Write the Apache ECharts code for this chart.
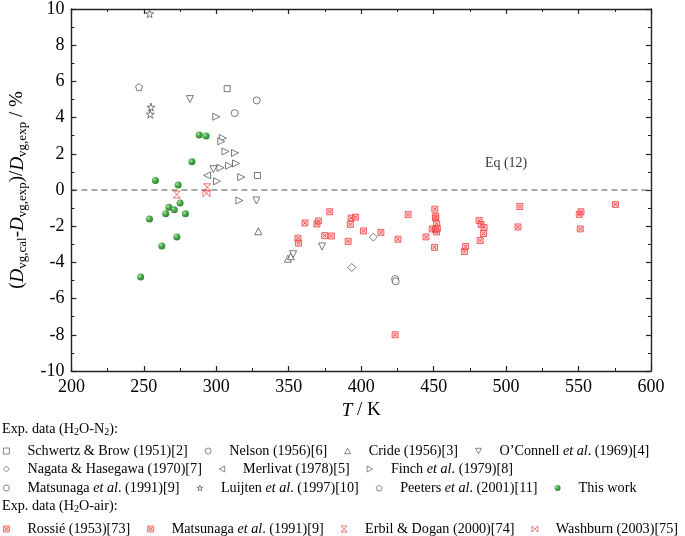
<!DOCTYPE html>
<html><head><meta charset="utf-8">
<script src="https://cdn.jsdelivr.net/npm/echarts@6/dist/echarts.min.js"></script>
<style>html,body{margin:0;padding:0;background:#fff}#c{width:685px;height:536px}</style>
</head><body><div id="c"></div>
<script>
// ---- data: [T / K, deviation / %] ----
const schwertz = [[307.5,5.6],[328.4,0.8]];
const nelson = [[312.7,4.25],[327.9,4.95]];
const cride = [[329,-2.28],[349.4,-3.8],[351.5,-3.66]];
const oconnell = [[281.8,5.02],[298,1.15],[327.7,-0.58],[373,-3.12],[353,-3.55]];
const nagata = [[408.4,-2.6],[393.5,-4.28]];
const merlivat = [[293.7,0.81]];
const finch = [[300,4.05],[304.5,2.87],[303.4,2.69],[306.3,2.13],[312.9,2.05],[302.9,1.23],[308.8,1.34],[313.6,1.47],[317.2,0.71],[300.5,0.48],[315.9,-0.58]];
const matsunagaN2 = [[423.4,-4.92],[423.8,-5.05]];
const luijten = [[254,9.74],[254.9,4.58],[254.4,4.19]];
const peeters = [[246.7,5.68]];
const thisWork = [[288.2,3.04],[293,2.98],[283.2,1.56],[258,0.53],[273.7,0.27],[275,-0.72],[267.3,-0.95],[271,-1.09],[265.1,-1.31],[278.7,-1.31],[253.9,-1.6],[272.8,-2.59],[262.4,-3.09],[247.8,-4.81]];
const rossie = [[432.4,-1.36],[444.7,-2.59],[449,-2.15],[450.6,-3.17],[450.8,-1.06],[451.2,-1.55],[451.2,-2.18],[451.5,-1.46],[452,-2.32],[452.1,-1.86],[452.6,-2.13],[471.2,-3.4],[472.1,-3.12],[482.1,-2.79],[481.4,-1.69],[482.8,-1.91],[484.4,-2.4],[484.8,-2.07],[508.2,-2.04],[509.5,-0.91],[550.5,-1.35],[551.2,-2.15],[551.7,-1.2],[575.5,-0.8]];
const matsunagaAir = [[356.3,-2.66],[356.7,-2.94],[361.2,-1.82],[369.4,-1.88],[370.5,-1.71],[374.8,-2.52],[378.3,-1.2],[379.4,-2.54],[391,-2.84],[392.5,-1.9],[393,-1.55],[396.1,-1.5],[401.6,-2.26],[413.6,-2.34],[423.4,-8.0],[425.4,-2.72]];
const erbil = [[272.8,-0.25],[293.7,0.15]];
const washburn = [[293.2,-0.18]];
const eqLine = [[200,0],[600,0]];
const eqLabelPos = [[500,0]];
const xRange = [200, 600, 50];
const yRange = [-10, 10, 2];

const FF = '"Liberation Serif","Times New Roman",serif';
const LFS = 14.2;
const GRAY = '#444';
const hollow = {color:'#fff', borderColor:GRAY, borderWidth:0.9};
const redBox = {color:'rgba(255,140,140,0.55)', borderColor:'#f03434', borderWidth:0.9};
const redX = {color:'rgba(0,0,0,0)', borderColor:'#f03434', borderWidth:0.9};
const green = {color:{type:'radial',x:0.35,y:0.35,r:0.75,colorStops:[{offset:0,color:'#9be09b'},{offset:0.45,color:'#129012'},{offset:1,color:'#045a04'}]}};
const SQ = 'path://M0,0L10,0L10,10L0,10Z';
const CIR = 'circle';
const TUP = 'path://M5,0L10,9L0,9Z';
const TDN = 'path://M0,0L10,0L5,9Z';
const TLF = 'path://M0,5L9,0L9,10Z';
const TRT = 'path://M0,0L9,5L0,10Z';
const DIA = 'path://M5,0L10,5L5,10L0,5Z';
const STAR = 'path://M50,0L61,35L98,35L68,57L79,91L50,70L21,91L32,57L2,35L39,35Z';
const PENT = 'path://M50,0L98,35L79,91L21,91L2,35Z';
const BOXX = 'path://M0,0L10,0L10,10L0,10Z M2,2L8,8 M8,2L2,8';
const HOUR = 'path://M0,0L10,0L0,10L10,10Z';
const WASH = 'path://M0,0L10,10M10,0L0,10M0,0L0,10M10,0L10,10';

const meta = [
  {name:'Schwertz & Brow (1951)[2]', data:schwertz, symbol:SQ, size:6, style:hollow},
  {name:'Nelson (1956)[6]', data:nelson, symbol:CIR, size:7, style:hollow},
  {name:'Cride (1956)[3]', data:cride, symbol:TUP, size:7, style:hollow},
  {name:'O\u2019Connell et al. (1969)[4]', data:oconnell, symbol:TDN, size:7, style:hollow},
  {name:'Nagata & Hasegawa (1970)[7]', data:nagata, symbol:DIA, size:8, style:hollow},
  {name:'Merlivat (1978)[5]', data:merlivat, symbol:TLF, size:7, style:hollow},
  {name:'Finch et al. (1979)[8]', data:finch, symbol:TRT, size:7, style:hollow},
  {name:'Matsunaga et al. (1991)[9]', data:matsunagaN2, symbol:CIR, size:7, style:hollow},
  {name:'Luijten et al. (1997)[10]', data:luijten, symbol:STAR, size:8, style:hollow},
  {name:'Peeters et al. (2001)[11]', data:peeters, symbol:PENT, size:7, style:hollow},
  {name:'This work', data:thisWork, symbol:CIR, size:7, style:green},
  {name:'Rossi\u00e9 (1953)[73]', data:rossie, symbol:BOXX, size:6, style:redBox},
  {name:'Matsunaga et al. (1991)[9] ', data:matsunagaAir, symbol:BOXX, size:6, style:redBox},
  {name:'Erbil & Dogan (2000)[74]', data:erbil, symbol:HOUR, size:7, style:redX},
  {name:'Washburn (2003)[75]', data:washburn, symbol:WASH, size:7, style:redX}
];

const series = [
  {type:'line', data:eqLine, symbol:'none', silent:true, lineStyle:{color:'#555', width:1.2, type:[6,4]}, z:1},
  {type:'scatter', data:eqLabelPos, symbolSize:0, silent:true,
    label:{show:true, formatter:'Eq (12)', position:'top', distance:20, color:'#000', fontFamily:FF, fontSize:14}}
].concat(meta.map(m => ({type:'scatter', name:m.name, data:m.data, symbol:m.symbol, symbolSize:m.size,
  itemStyle:m.style, emphasis:{disabled:true}, z:3})));

function fmt(name) {
  const t = name.trim();
  const k = t.indexOf('et al.');
  if (k < 0) return '{g|}{n|' + t + '}';
  return '{g|}{n|' + t.slice(0,k) + '}{i|et al}{n|' + t.slice(k+5) + '}';
}
function leg(top, idx) {
  return {top, left:3, width:720, padding:0, orient:'horizontal', itemWidth:6, itemHeight:6, itemGap:17, selectedMode:false,
    data: idx.map(i => ({name:meta[i].name, icon:meta[i].symbol,
      itemStyle:Object.assign({}, meta[i].style, {borderWidth:0.8})})),
    formatter:fmt,
    textStyle:{fontFamily:FF, fontSize:LFS, color:'#000',
      rich:{g:{width:13}, n:{fontFamily:FF, fontSize:LFS, color:'#000'}, i:{fontFamily:FF, fontSize:LFS, color:'#000', fontStyle:'italic'}}}};
}

const axisCommon = {axisLine:{show:true, onZero:false, lineStyle:{color:'#222', width:1.4}},
  axisTick:{show:true, inside:true, length:5, lineStyle:{color:'#222', width:1.2}},
  minorTick:{show:true, splitNumber:2, length:3, lineStyle:{color:'#222', width:1}},
  splitLine:{show:false}};

const opt = {
  animation:false,
  grid:{left:63, right:34, top:7, bottom:165},
  xAxis:[
    Object.assign({type:'value', min:xRange[0], max:xRange[1], interval:xRange[2], position:'bottom',
      axisLabel:{fontFamily:FF, fontSize:18, color:'#000', margin:7},
      name:'{i|T}{n| / K}', nameLocation:'middle', nameGap:30,
      nameTextStyle:{rich:{i:{fontFamily:FF, fontSize:19, fontStyle:'italic', color:'#000'}, n:{fontFamily:FF, fontSize:19, color:'#000'}}}}, axisCommon),
    Object.assign({type:'value', min:xRange[0], max:xRange[1], interval:xRange[2], position:'top', axisLabel:{show:false}}, axisCommon)
  ],
  yAxis:[
    Object.assign({type:'value', min:yRange[0], max:yRange[1], interval:yRange[2], position:'left',
      axisLabel:{fontFamily:FF, fontSize:18, color:'#000', margin:7},
      name:'{p|(}{d|D}{s|vg,cal}{p|-}{d|D}{s|vg,exp}{p|)/}{d|D}{s|vg,exp}{p| / %}', nameLocation:'middle', nameGap:33,
      nameTextStyle:{rich:{
        p:{fontFamily:FF, fontSize:19, color:'#000'},
        d:{fontFamily:FF, fontSize:19, color:'#000', fontStyle:'italic'},
        s:{fontFamily:FF, fontSize:13, color:'#000', padding:[11,0,0,0]}}}}, axisCommon),
    Object.assign({type:'value', min:yRange[0], max:yRange[1], interval:yRange[2], position:'right', axisLabel:{show:false}}, axisCommon)
  ],
  legend:[
    leg(444, [0,1,2,3]),
    leg(462, [4,5,6]),
    leg(481, [7,8,9,10]),
    leg(522, [11,12,13,14])
  ],
  graphic:[
    {type:'text', left:2, top:422, style:{text:'{n|Exp. data (H}{s|2}{n|O-N}{s|2}{n|):}', rich:{n:{fontFamily:FF, fontSize:LFS, fill:'#000'}, s:{fontFamily:FF, fontSize:10, fill:'#000', padding:[7,0,0,0]}}}},
    {type:'text', left:2, top:499, style:{text:'{n|Exp. data (H}{s|2}{n|O-air):}', rich:{n:{fontFamily:FF, fontSize:LFS, fill:'#000'}, s:{fontFamily:FF, fontSize:10, fill:'#000', padding:[7,0,0,0]}}}}
  ],
  series
};
const ch = echarts.init(document.getElementById('c'), null, {renderer:'canvas'});
ch.setOption(opt);
</script></body></html>
